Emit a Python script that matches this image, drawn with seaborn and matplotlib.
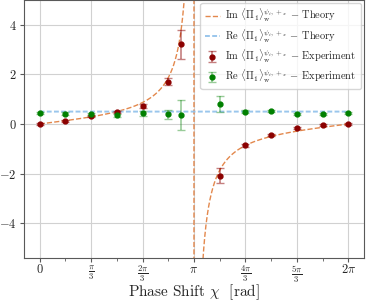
import numpy as np
import matplotlib
matplotlib.use("Agg")
import matplotlib.pyplot as plt
from matplotlib.ticker import MultipleLocator, FuncFormatter
import seaborn as sns

# experiment phase shifts (in units of pi)
chi_exp_pi = [0, 1/6, 1/3, 1/2, 2/3, 5/6, 11/12, 7/6, 4/3, 3/2, 5/3, 11/6, 2]
im_exp = [0.0, 0.13, 0.32, 0.48, 0.73, 1.71, 3.22, -2.09, -0.86, -0.44, -0.16, -0.05, 0.0]
im_err = [0.03, 0.04, 0.05, 0.05, 0.08, 0.15, 0.59, 0.30, 0.06, 0.05, 0.04, 0.04, 0.03]
re_exp = [0.43, 0.42, 0.39, 0.36, 0.43, 0.39, 0.36, 0.80, 0.50, 0.51, 0.40, 0.42, 0.46]
re_err = [0.04, 0.05, 0.05, 0.06, 0.09, 0.18, 0.59, 0.33, 0.07, 0.04, 0.05, 0.04, 0.04]

tick_labels = ["$0$", r"$\frac{\pi}{3}$", r"$\frac{2\pi}{3}$", r"$\pi$",
               r"$\frac{4\pi}{3}$", r"$\frac{5\pi}{3}$", r"$2\pi$"]

sns.set_style("whitegrid", {"axes.edgecolor": ".35", "grid.color": ".82",
                            "xtick.bottom": True, "ytick.left": True})
plt.rcParams["font.family"] = ["cmr10", "DejaVu Serif"]
plt.rcParams["mathtext.fontset"] = "cm"
plt.rcParams["axes.formatter.use_mathtext"] = True

chi_exp = np.array(chi_exp_pi) * np.pi
chi = np.linspace(0, 2 * np.pi, 2000)
im_theory = 0.5 * np.tan(chi / 2)
re_theory = np.full_like(chi, 0.5)

fig, ax = plt.subplots(figsize=(3.66, 3.02), dpi=100)
fig.subplots_adjust(left=0.066, right=0.994, top=1.0, bottom=0.146)

lab = r"\langle\Pi_1\rangle_{\rm w}^{\psi_i,+_x}"
sns.lineplot(x=chi, y=im_theory, ax=ax, color="#e07b39", lw=1.0, ls="--",
             alpha=0.9, sort=False, label=rf"Im ${lab}$ $-$ Theory")
sns.lineplot(x=chi, y=re_theory, ax=ax, color="#8fc0ea", lw=1.4,
             dashes=False, alpha=0.9, sort=False, label=rf"Re ${lab}$ $-$ Theory")
ax.lines[-1].set_dashes((2.5, 1.2))
ax.errorbar(chi_exp, im_exp, yerr=im_err, fmt="o", color="darkred", ms=3.5,
            ecolor=(0.55, 0.0, 0.0, 0.5), elinewidth=1.2, capsize=3,
            label=rf"Im ${lab}$ $-$ Experiment")
ax.errorbar(chi_exp, re_exp, yerr=re_err, fmt="o", color="green", ms=3.5,
            ecolor=(0.0, 0.5, 0.0, 0.4), elinewidth=1.2, capsize=3,
            label=rf"Re ${lab}$ $-$ Experiment")

ax.set_ylim(-5.4, 5)
ax.set_xlim(-0.1 * np.pi, 2.1 * np.pi)
ax.xaxis.set_major_locator(MultipleLocator(np.pi / 3))
ax.xaxis.set_minor_locator(MultipleLocator(np.pi / 6))
ax.xaxis.set_major_formatter(FuncFormatter(
    lambda v, p: tick_labels[int(round(v / (np.pi / 3)))] if 0 <= round(v / (np.pi / 3)) < 7 else ""))
ax.yaxis.set_major_locator(MultipleLocator(2))
ax.tick_params(axis="both", which="major", labelsize=9, length=3, pad=2.5, color=".35")
ax.tick_params(axis="x", which="major", pad=1)
ax.tick_params(axis="x", which="minor", length=2, color=".35", bottom=True)
ax.set_xlabel(r"Phase Shift $\chi$  [rad]", fontsize=11)
ax.xaxis.set_label_coords(0.5, -0.095)
ax.set_ylabel("")
ax.legend(loc="upper right", fontsize=7.5, frameon=True, handlelength=1.5,
          handletextpad=0.5, labelspacing=0.3, borderaxespad=0.3)

fig.savefig("out.png", dpi=100)
